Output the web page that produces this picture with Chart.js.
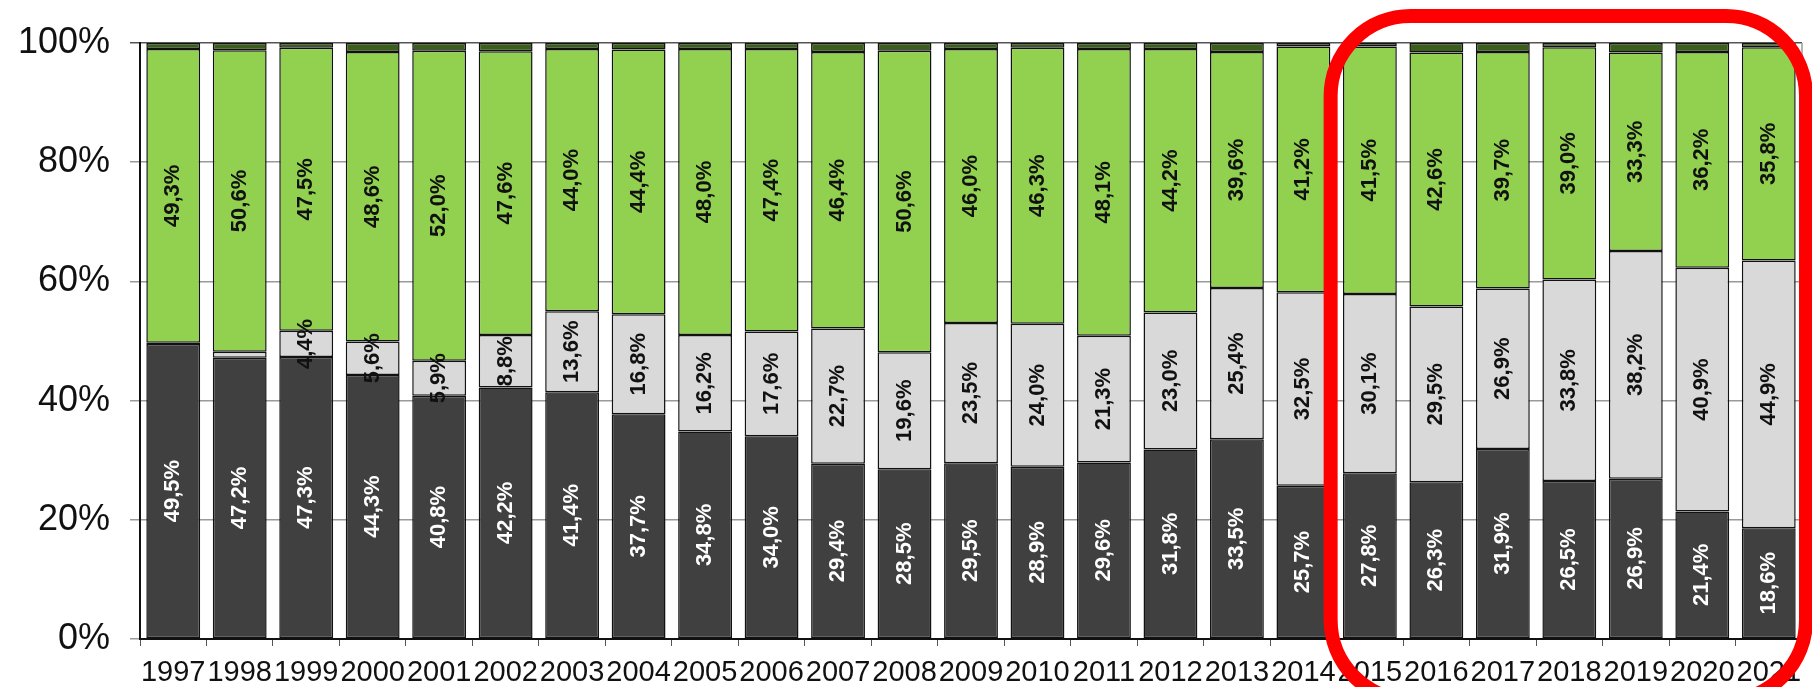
<!DOCTYPE html>
<html>
<head>
  <title>Anteile 1997-2021</title>
  <script src="https://cdn.jsdelivr.net/npm/chart.js"></script>
  <style>
    body {
      margin: 0;
      padding: 0;
      background-color: #fff;
    }
    .chart-container {
      width: 1812px;
      height: 687px;
    }
  </style>
</head>
<body>
  <div class="chart-container">
    <canvas id="shareChart"></canvas>
  </div>
  <script>
    const years = ['1997', '1998', '1999', '2000', '2001', '2002', '2003', '2004', '2005', '2006', '2007', '2008', '2009',
      '2010', '2011', '2012', '2013', '2014', '2015', '2016', '2017', '2018', '2019', '2020', '2021'];

    // values, in percent
    const darkShare = [49.5, 47.2, 47.3, 44.3, 40.8, 42.2, 41.4, 37.7, 34.8, 34.0, 29.4, 28.5, 29.5,
      28.9, 29.6, 31.8, 33.5, 25.7, 27.8, 26.3, 31.9, 26.5, 26.9, 21.4, 18.6];
    const lightShare = [0.2, 1.0, 4.4, 5.6, 5.9, 8.8, 13.6, 16.8, 16.2, 17.6, 22.7, 19.6, 23.5,
      24.0, 21.3, 23.0, 25.4, 32.5, 30.1, 29.5, 26.9, 33.8, 38.2, 40.9, 44.9];
    const greenShare = [49.3, 50.6, 47.5, 48.6, 52.0, 47.6, 44.0, 44.4, 48.0, 47.4, 46.4, 50.6, 46.0,
      46.3, 48.1, 44.2, 39.6, 41.2, 41.5, 42.6, 39.7, 39.0, 33.3, 36.2, 35.8];
    const restShare = [1.0, 1.2, 0.8, 1.5, 1.3, 1.4, 1.0, 1.1, 1.0, 1.0, 1.5, 1.3, 1.0,
      0.8, 1.0, 1.0, 1.5, 0.6, 0.6, 1.6, 1.5, 0.7, 1.6, 1.5, 0.7];

    const yTicks = [0, 20, 40, 60, 80, 100];

    // rotated value labels inside the segments
    const segmentLabels = {
      id: 'segmentLabels',
      beforeDatasetsDraw(chart) {
        const { ctx, chartArea } = chart;
        ctx.save();
        ctx.strokeStyle = '#9a9a9a';
        ctx.lineWidth = 1.5;
        ctx.beginPath();
        ctx.moveTo(chartArea.right, chartArea.top);
        ctx.lineTo(chartArea.right, chartArea.bottom);
        ctx.stroke();
        ctx.restore();
      },
      afterDatasetsDraw(chart) {
        const ctx = chart.ctx;
        ctx.save();
        ctx.font = 'bold 22px Arial, "Liberation Sans", sans-serif';
        ctx.textAlign = 'center';
        ctx.textBaseline = 'middle';
        [0, 1, 2].forEach(i => {
          const ds = chart.data.datasets[i];
          ctx.fillStyle = i === 0 ? '#ffffff' : '#111111';
          chart.getDatasetMeta(i).data.forEach((bar, j) => {
            const v = ds.data[j];
            if (v < 2) return;
            const p = bar.getProps(['x', 'y', 'base'], true);
            ctx.save();
            ctx.translate(p.x, (p.y + p.base) / 2);
            ctx.rotate(-Math.PI / 2);
            ctx.fillText(v.toFixed(1).replace('.', ',') + '%', 0, 0);
            ctx.restore();
          });
        });
        ctx.restore();
      }
    };

    // red rounded frame around 2015-2021
    const redFrame = {
      id: 'redFrame',
      afterDraw(chart) {
        const ctx = chart.ctx;
        const xs = chart.scales.x;
        const catW = xs.getPixelForValue(1) - xs.getPixelForValue(0);
        const left = xs.getPixelForValue(18) - catW / 2 - 6;
        const right = chart.width - 6;
        const top = 16;
        const bottom = 700;
        ctx.save();
        ctx.strokeStyle = '#ff0000';
        ctx.lineWidth = 14;
        ctx.beginPath();
        ctx.roundRect(left, top, right - left, bottom - top, 80);
        ctx.stroke();
        ctx.restore();
      }
    };

    const ctx = document.getElementById('shareChart').getContext('2d');
    new Chart(ctx, {
      type: 'bar',
      data: {
        labels: years,
        datasets: [
          { label: 'dark', data: darkShare, backgroundColor: '#404040' },
          { label: 'light', data: lightShare, backgroundColor: '#d9d9d9' },
          { label: 'green', data: greenShare, backgroundColor: '#92d050' },
          { label: 'rest', data: restShare, backgroundColor: '#3b5e1c' }
        ].map(ds => Object.assign(ds, {
          borderColor: '#111111',
          borderWidth: 1.5,
          borderSkipped: false,
          barPercentage: 0.81,
          categoryPercentage: 1
        }))
      },
      options: {
        responsive: true,
        maintainAspectRatio: false,
        animation: false,
        layout: { padding: { top: 43, right: 10, left: 0, bottom: 0 } },
        plugins: {
          legend: { display: false },
          tooltip: { enabled: false }
        },
        scales: {
          x: {
            stacked: true,
            afterFit: scale => { scale.height = 48; },
            grid: { drawOnChartArea: false, drawTicks: true, tickLength: 7, color: '#555' },
            border: { color: '#111', width: 2 },
            ticks: {
              autoSkip: false,
              maxRotation: 0,
              padding: 10,
              color: '#111',
              font: { family: 'Arial, "Liberation Sans", sans-serif', size: 29 }
            }
          },
          y: {
            stacked: true,
            min: 0,
            max: 100,
            afterFit: scale => { scale.width = 140; },
            afterBuildTicks: scale => { scale.ticks = yTicks.map(v => ({ value: v })); },
            grid: {
              tickLength: 10,
              lineWidth: 1.5,
              color: c => c.tick && c.tick.value === 100 ? '#555' : '#9a9a9a'
            },
            border: { color: '#111', width: 2 },
            ticks: {
              padding: 20,
              color: '#111',
              font: { family: 'Arial, "Liberation Sans", sans-serif', size: 36 },
              callback: v => v + '%'
            }
          }
        }
      },
      plugins: [segmentLabels, redFrame]
    });
  </script>
</body>
</html>
